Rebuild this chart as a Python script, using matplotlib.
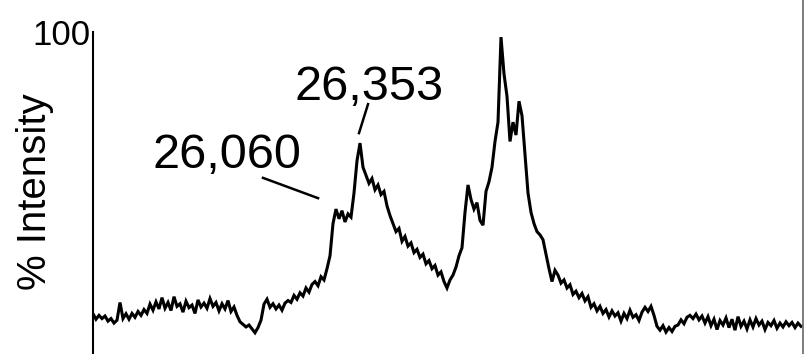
import numpy as np
import matplotlib.pyplot as plt
from matplotlib.lines import Line2D

plt.rcParams["font.family"] = ["Liberation Sans", "DejaVu Sans"]

# deconvoluted spectrum, % intensity sampled every 38.1 Da from 22,962 Da
mass_start = 22962
mass_step = 38.1
intensity = [
    12.5, 10.8, 12.0, 11.0, 11.8, 10.2, 11.0, 9.6, 10.5,
    16.0,
    11.0, 12.5, 10.8, 12.6, 11.4, 13.2, 12.0, 13.8, 12.6,
    15.5, 13.6, 16.2, 14.0, 17.5, 14.2, 16.0, 13.5, 17.8, 14.8,
    15.6, 13.0, 16.4, 14.4, 15.2, 12.6, 16.8, 14.6, 15.8, 14.2,
    17.2, 14.8, 16.0, 13.4, 15.6, 14.0, 16.6, 13.2, 14.6,
    12.0, 10.0, 9.2, 8.4, 9.0, 7.8, 6.6, 8.2, 10.5,
    15.5, 17.0, 14.5, 15.6, 14.0, 15.2, 13.6, 15.8, 16.6,
    16.0, 18.2, 17.0, 19.0, 18.0, 20.5, 19.2, 21.6, 22.5, 21.2, 24.0, 23.0, 26.5,
    30.5, 40.5, 45.0, 42.0, 44.5, 41.0, 43.5, 42.5, 50.0, 60.0,
    65.5,
    58.0, 55.5, 53.0, 54.5, 51.0, 52.5, 49.5, 50.5, 46.0, 43.0, 40.5, 38.0,
    39.0, 35.0, 36.5, 33.5, 34.5, 31.5, 32.5, 30.0, 31.0, 28.0, 29.0, 26.5,
    27.5, 24.5, 25.5, 22.5, 20.5,
    23.0, 24.5, 27.0, 30.5, 33.0,
    44.0, 52.5, 48.0, 45.0, 47.0, 41.5, 40.0,
    50.5, 53.5, 58.0, 66.0, 72.0, 98.4,
    87.0, 80.0, 66.0, 72.0, 68.0, 78.5, 74.0,
    62.0, 50.0, 44.0, 40.5, 38.0, 37.0, 35.5, 31.0, 26.5, 22.5,
    26.0, 24.5, 22.0, 23.0, 20.5, 21.5, 18.5, 19.5, 17.5, 18.8, 16.5, 17.8,
    14.5, 15.6, 13.4, 14.8, 12.6, 13.8, 11.5, 13.4, 11.8, 12.8, 10.2, 12.6,
    11.0, 13.6, 11.4,
    12.2, 10.4, 13.0, 14.5, 13.2, 14.8, 12.0,
    8.6, 7.4, 8.8, 6.8, 8.2, 7.0, 8.6, 9.0,
    10.6, 9.4, 11.4, 12.0, 11.0, 12.4, 10.6, 11.8, 9.6, 11.6, 8.8, 10.8,
    7.6, 10.4, 9.0, 11.2, 8.2, 10.8, 7.4, 11.6, 8.6, 10.2, 7.8, 10.6,
    8.4, 11.0, 9.0, 10.2, 7.6, 9.8, 8.8, 10.4, 8.0, 9.6, 8.4, 10.0,
    8.8, 9.8, 8.2, 9.6, 8.6,
]
mass = mass_start + mass_step * np.arange(len(intensity))

# labelled peaks: text, text anchor, leader line start and end (mass, %)
peak_labels = ["26,060", "26,353"]
label_pos = [(24664, 57.8), (26467, 78.9)]
leader_start = [(25121, 54.7), (26455, 77.6)]
leader_end = [(25820, 48.4), (26340, 68.6)]

fig = plt.figure(figsize=(8.05, 3.54), dpi=100)
ax = fig.add_axes([93 / 805, 0, 710 / 805, 322 / 354])

ax.plot(mass, intensity, color="black", lw=2.2, solid_joinstyle="miter")

ax.set_xlim(mass_start, mass_start + 710 / 3 * mass_step)
ax.set_ylim(0, 100)
ax.set_yticks([100])
ax.set_yticklabels(["100"], fontsize=25)
ax.tick_params(axis="y", length=0, pad=2)
ax.set_xticks([])
for side in ["top", "right", "bottom"]:
    ax.spines[side].set_visible(False)
ax.spines["left"].set_linewidth(1.5)

for text, pos, p0, p1 in zip(peak_labels, label_pos, leader_start, leader_end):
    ax.text(pos[0], pos[1], text, fontsize=35, ha="center", va="baseline")
    ax.plot([p0[0], p1[0]], [p0[1], p1[1]], color="black", lw=1.8)

fig.text(35 / 805, 1 - 192 / 354, "% Intensity", rotation=90, fontsize=29,
         ha="center", va="center")

# edge of the neighbouring panel
fig.add_artist(Line2D([803 / 805, 803 / 805], [0, 1], color="#666666", lw=1.2))

fig.savefig("out.png", dpi=100)
